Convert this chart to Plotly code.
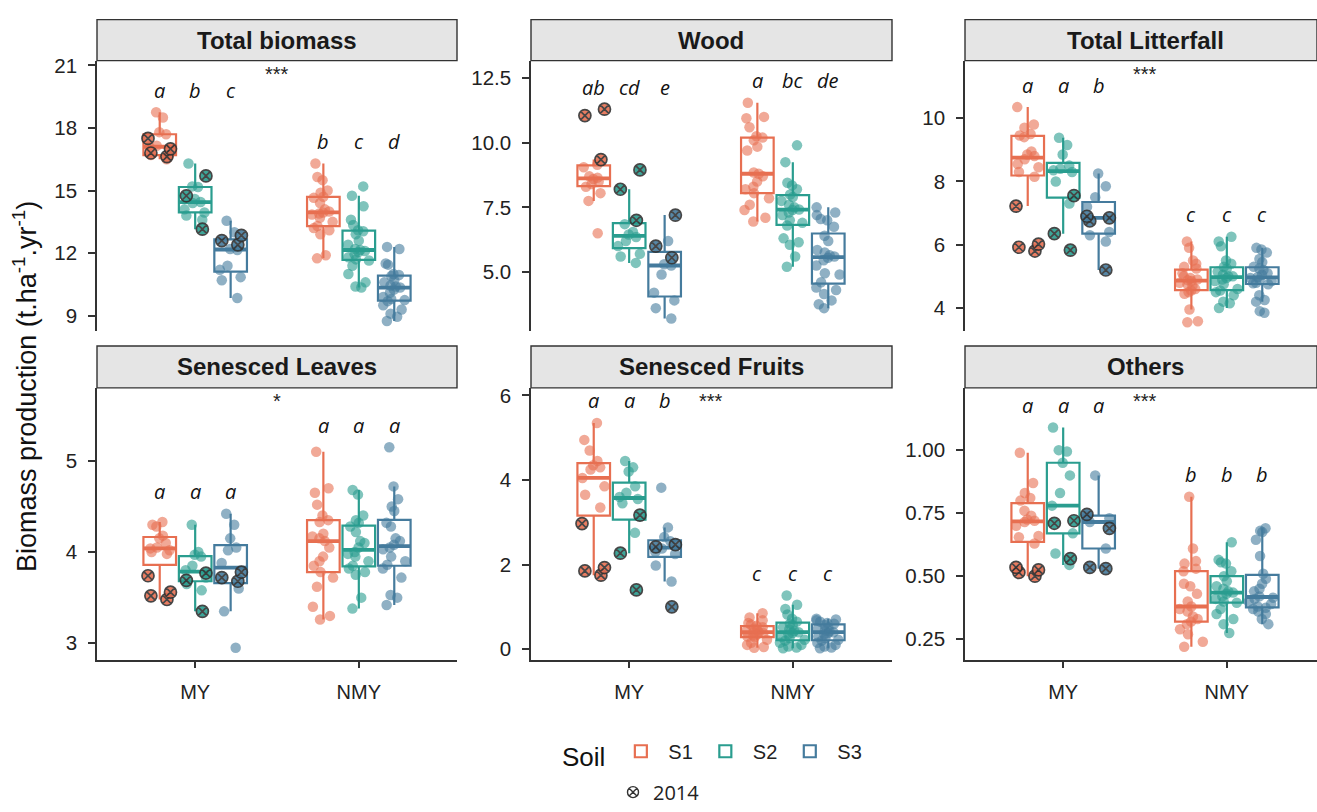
import numpy as np
import plotly.graph_objects as go

# ---------------- data ----------------
panels = ["Total biomass", "Wood", "Total Litterfall", "Senesced Leaves", "Senesced Fruits", "Others"]
groups = ["MY", "NMY"]
soils = ["S1", "S2", "S3"]

# Total biomass
TB_MY_S1 = [18.75, 18.5, 17.8, 17.7, 17.15, 17.1, 16.7, 16.7, 16.5]
TB_MY_S2 = [16.3, 15.2, 15.17, 14.6, 14.45, 14.4, 14.1, 13.95, 13.8, 13.6]
TB_MY_S3 = [13.55, 13.0, 12.2, 12.15, 11.4, 11.2, 10.85, 10.7, 9.85]
TB_2014_S1 = [17.5, 17.0, 16.8, 16.63]
TB_2014_S2 = [15.7, 14.75, 13.15]
TB_2014_S3 = [12.85, 12.6, 12.4]
TB_NMY_S1 = [16.3, 15.65, 15.5, 15.0, 14.9, 14.7, 14.65, 14.4, 14.1, 14.0, 13.95, 13.9, 13.85, 13.7, 13.5, 13.3, 13.2, 13.1, 12.9, 11.9, 11.75]
TB_NMY_S2 = [15.2, 14.75, 14.25, 13.6, 13.35, 13.1, 13.05, 12.9, 12.6, 12.4, 12.2, 12.15, 12.1, 12.05, 11.95, 11.8, 11.7, 11.65, 11.4, 11.0, 10.6, 10.4, 10.35]
TB_NMY_S3 = [12.3, 12.2, 11.5, 11.45, 11.0, 10.95, 10.9, 10.7, 10.6, 10.45, 10.4, 10.35, 10.25, 10.1, 9.9, 9.8, 9.75, 9.7, 9.5, 9.3, 9.1, 8.95, 8.75]

# Wood
WO_MY_S1 = [9.15, 9.05, 8.7, 8.65, 8.6, 8.5, 8.4, 8.3, 8.05, 7.75, 6.5]
WO_MY_S2 = [6.85, 6.55, 6.45, 6.35, 6.2, 6.0, 5.7, 5.6, 5.35]
WO_MY_S3 = [6.2, 5.3, 5.25, 4.9, 4.2, 3.9, 3.6, 3.2]
WO_2014_S1 = [11.3, 11.05, 9.35]
WO_2014_S2 = [8.95, 8.2, 7.0]
WO_2014_S3 = [7.2, 6.0, 5.55]
WO_NMY_S1 = [11.55, 11.0, 10.95, 10.6, 10.25, 10.2, 10.1, 9.85, 9.7, 8.85, 8.8, 8.7, 8.5, 8.3, 8.2, 8.05, 7.85, 7.6, 7.4, 7.1, 6.95]
WO_NMY_S2 = [9.9, 9.25, 8.45, 8.35, 8.2, 8.0, 7.9, 7.75, 7.6, 7.5, 7.42, 7.4, 7.3, 7.2, 7.0, 6.9, 6.8, 6.3, 6.15, 6.05, 5.6, 5.2]
WO_NMY_S3 = [7.5, 7.3, 7.2, 7.05, 7.0, 6.75, 6.4, 6.2, 5.85, 5.75, 5.65, 5.6, 5.55, 5.45, 5.25, 4.95, 4.9, 4.6, 4.4, 4.3, 4.15, 3.9, 3.75, 3.6]

# Total Litterfall
TL_MY_S1 = [10.35, 9.8, 9.7, 9.5, 9.45, 9.4, 8.95, 8.85, 8.8, 8.7, 8.55, 8.45, 8.3, 8.15]
TL_MY_S2 = [9.38, 9.15, 8.85, 8.5, 8.4, 8.35, 8.3, 8.0, 7.3]
TL_MY_S3 = [8.25, 7.85, 7.5, 7.2, 6.4, 6.3, 6.1]
TL_2014_S1 = [7.22, 6.02, 5.92, 5.8]
TL_2014_S2 = [7.55, 6.35, 5.83]
TL_2014_S3 = [6.9, 6.85, 6.75, 5.2]
TL_NMY_S1 = [6.1, 5.9, 5.5, 5.4, 5.3, 5.25, 5.1, 5.0, 4.95, 4.9, 4.88, 4.85, 4.8, 4.75, 4.7, 4.6, 4.55, 4.5, 4.45, 3.95, 3.58, 3.55]
TL_NMY_S2 = [6.25, 6.1, 5.95, 5.5, 5.4, 5.3, 5.25, 5.15, 5.05, 5.0, 5.0, 4.95, 4.9, 4.85, 4.75, 4.6, 4.55, 4.5, 4.4, 4.2, 4.15, 4.0]
TL_NMY_S3 = [5.9, 5.85, 5.75, 5.55, 5.45, 5.3, 5.25, 5.2, 5.1, 5.05, 4.98, 4.95, 4.9, 4.85, 4.8, 4.78, 4.75, 4.4, 4.25, 4.2, 3.9, 3.85]

# Senesced Leaves
SL_MY_S1 = [4.33, 4.3, 4.28, 4.18, 4.15, 4.1, 4.05, 4.04, 4.02, 4.0, 3.98]
SL_MY_S2 = [4.3, 4.0, 3.97, 3.95, 3.85, 3.8, 3.72, 3.65, 3.58]
SL_MY_S3 = [4.42, 4.3, 4.15, 4.05, 4.02, 3.88, 3.6, 3.35, 2.95]
SL_2014_S1 = [3.74, 3.56, 3.52, 3.48]
SL_2014_S2 = [3.77, 3.69, 3.35]
SL_2014_S3 = [3.78, 3.72, 3.68]
SL_NMY_S1 = [5.1, 4.7, 4.65, 4.52, 4.4, 4.35, 4.33, 4.2, 4.17, 4.15, 4.12, 4.05, 3.95, 3.9, 3.85, 3.78, 3.72, 3.62, 3.4, 3.3, 3.26]
SL_NMY_S2 = [4.68, 4.63, 4.4, 4.35, 4.32, 4.28, 4.22, 4.12, 4.1, 4.05, 4.0, 3.98, 3.95, 3.9, 3.85, 3.82, 3.78, 3.75, 3.5, 3.38]
SL_NMY_S3 = [5.15, 4.72, 4.58, 4.5, 4.45, 4.32, 4.28, 4.15, 4.12, 4.08, 4.05, 4.03, 3.95, 3.9, 3.86, 3.82, 3.72, 3.53, 3.5, 3.42]

# Senesced Fruits
SF_MY_S1 = [5.35, 4.95, 4.7, 4.45, 4.35, 4.3, 4.25, 4.05, 3.85, 3.65, 3.35]
SF_MY_S2 = [4.45, 4.3, 4.2, 3.85, 3.7, 3.6, 3.55, 3.45, 2.75]
SF_MY_S3 = [3.82, 2.88, 2.65, 2.55, 2.38, 2.3, 2.25, 1.98, 1.6]
SF_2014_S1 = [2.97, 1.93, 1.85, 1.75]
SF_2014_S2 = [3.17, 2.27, 1.4]
SF_2014_S3 = [2.47, 2.42, 1.0]
SF_NMY_S1 = [0.85, 0.75, 0.68, 0.62, 0.58, 0.55, 0.52, 0.48, 0.45, 0.42, 0.4, 0.4, 0.38, 0.35, 0.32, 0.3, 0.28, 0.22, 0.15, 0.1, 0.05, 0.03]
SF_NMY_S2 = [1.27, 1.05, 0.95, 0.82, 0.72, 0.65, 0.6, 0.57, 0.52, 0.47, 0.43, 0.4, 0.38, 0.35, 0.3, 0.26, 0.22, 0.2, 0.15, 0.1, 0.06, 0.04, 0.02]
SF_NMY_S3 = [0.72, 0.7, 0.68, 0.65, 0.62, 0.6, 0.57, 0.52, 0.48, 0.44, 0.42, 0.4, 0.38, 0.35, 0.3, 0.26, 0.22, 0.2, 0.15, 0.1, 0.06, 0.04, 0.02]

# Others
OT_MY_S1 = [0.99, 0.87, 0.83, 0.81, 0.8, 0.76, 0.74, 0.725, 0.72, 0.715, 0.7, 0.66, 0.655, 0.63]
OT_MY_S2 = [1.09, 1.0, 0.995, 0.95, 0.9, 0.83, 0.78, 0.67, 0.59, 0.545]
OT_MY_S3 = [0.9, 0.74, 0.73, 0.715, 0.61]
OT_2014_S1 = [0.535, 0.525, 0.515, 0.5]
OT_2014_S2 = [0.72, 0.71, 0.57]
OT_2014_S3 = [0.745, 0.69, 0.535, 0.53]
OT_NMY_S1 = [0.815, 0.61, 0.56, 0.55, 0.53, 0.52, 0.47, 0.46, 0.43, 0.4, 0.38, 0.37, 0.36, 0.34, 0.33, 0.32, 0.31, 0.29, 0.27, 0.24, 0.22]
OT_NMY_S2 = [0.635, 0.565, 0.555, 0.55, 0.52, 0.5, 0.48, 0.46, 0.45, 0.44, 0.435, 0.43, 0.42, 0.41, 0.4, 0.395, 0.37, 0.35, 0.33, 0.31, 0.275]
OT_NMY_S3 = [0.69, 0.68, 0.675, 0.645, 0.58, 0.51, 0.49, 0.47, 0.45, 0.44, 0.42, 0.415, 0.41, 0.4, 0.39, 0.38, 0.375, 0.37, 0.36, 0.35, 0.33, 0.31]

letters_TB = ["a", "b", "c", "b", "c", "d"]
letters_WO = ["ab", "cd", "e", "a", "bc", "de"]
letters_TL = ["a", "a", "b", "c", "c", "c"]
letters_SL = ["a", "a", "a", "a", "a", "a"]
letters_SF = ["a", "a", "b", "c", "c", "c"]
letters_OT = ["a", "a", "a", "b", "b", "b"]
stars = ["***", "", "***", "*", "***", "***"]

MY = [[TB_MY_S1, TB_MY_S2, TB_MY_S3], [WO_MY_S1, WO_MY_S2, WO_MY_S3], [TL_MY_S1, TL_MY_S2, TL_MY_S3],
      [SL_MY_S1, SL_MY_S2, SL_MY_S3], [SF_MY_S1, SF_MY_S2, SF_MY_S3], [OT_MY_S1, OT_MY_S2, OT_MY_S3]]
Y2014 = [[TB_2014_S1, TB_2014_S2, TB_2014_S3], [WO_2014_S1, WO_2014_S2, WO_2014_S3], [TL_2014_S1, TL_2014_S2, TL_2014_S3],
         [SL_2014_S1, SL_2014_S2, SL_2014_S3], [SF_2014_S1, SF_2014_S2, SF_2014_S3], [OT_2014_S1, OT_2014_S2, OT_2014_S3]]
NMY = [[TB_NMY_S1, TB_NMY_S2, TB_NMY_S3], [WO_NMY_S1, WO_NMY_S2, WO_NMY_S3], [TL_NMY_S1, TL_NMY_S2, TL_NMY_S3],
       [SL_NMY_S1, SL_NMY_S2, SL_NMY_S3], [SF_NMY_S1, SF_NMY_S2, SF_NMY_S3], [OT_NMY_S1, OT_NMY_S2, OT_NMY_S3]]
LETTERS = [letters_TB, letters_WO, letters_TL, letters_SL, letters_SF, letters_OT]

# ---------------- style / layout ----------------
W, H = 1317, 812
colors = ["#E76F51", "#2A9D8F", "#457B9D"]
FONT = "Liberation Sans, Arial, sans-serif"
INK = "#222222"
col_px = [(97, 457), (531, 892), (965, 1317)]
row_px = [(55, 333), (391, 670)]
strip_px = [42, 43]
yranges = [[8.25, 21.23], [2.70, 13.18], [3.26, 11.82], [2.82, 5.80], [-0.25, 6.18], [0.169, 1.247]]
ytickvals = [[9, 12, 15, 18, 21], [5.0, 7.5, 10.0, 12.5], [4, 6, 8, 10], [3, 4, 5], [0, 2, 4, 6], [0.25, 0.5, 0.75, 1.0]]
ytickfmt = ["", ".1f", "", "", "", ".2f"]
BOXGAP, GROUPGAP = 0.35, 0.08
slot = (1 - BOXGAP) / 3
UNIT_PX = 360 / 2.2


def box_stats(v):
    a = np.asarray(v, float)
    q1, med, q3 = np.percentile(a, [25, 50, 75])
    iqr = q3 - q1
    lo = a[a >= q1 - 1.5 * iqr].min()
    hi = a[a <= q3 + 1.5 * iqr].max()
    return q1, med, q3, lo, hi


fig = go.Figure()
annotations = []
shapes = []

for p in range(6):
    k = p + 1
    xa = "x" if k == 1 else f"x{k}"
    ya = "y" if k == 1 else f"y{k}"
    for j, soil in enumerate(soils):
        c = colors[j]
        my_all = MY[p][j] + Y2014[p][j]
        nmy = NMY[p][j]
        st = [box_stats(my_all), box_stats(nmy)]
        fig.add_trace(go.Box(
            x=groups, q1=[s[0] for s in st], median=[s[1] for s in st], q3=[s[2] for s in st],
            lowerfence=[s[3] for s in st], upperfence=[s[4] for s in st],
            name=soil, showlegend=(p == 0), legend="legend", offsetgroup=soil,
            line=dict(color=c, width=2.2), fillcolor="rgba(255,255,255,0)", whiskerwidth=0,
            boxpoints=False, xaxis=xa, yaxis=ya, hoverinfo="skip"))
        fig.add_trace(go.Box(
            x=groups, q1=[s[1] for s in st], median=[s[1] for s in st], q3=[s[1] for s in st],
            lowerfence=[s[1] for s in st], upperfence=[s[1] for s in st],
            showlegend=False, offsetgroup=soil, line=dict(color=c, width=3.8),
            fillcolor="rgba(255,255,255,0)", whiskerwidth=0, boxpoints=False,
            xaxis=xa, yaxis=ya, hoverinfo="skip"))
        fig.add_trace(go.Box(
            x=["MY"] * len(MY[p][j]) + ["NMY"] * len(nmy), y=MY[p][j] + nmy,
            showlegend=False, offsetgroup=soil, boxpoints="all", jitter=0.85, pointpos=0,
            line=dict(color=c, width=0), fillcolor="rgba(255,255,255,0)", whiskerwidth=0,
            marker=dict(color=c, size=10.5, opacity=0.6, line=dict(width=0)),
            xaxis=xa, yaxis=ya, hoverinfo="skip"))
        fig.add_trace(go.Box(
            x=["MY"] * len(Y2014[p][j]), y=Y2014[p][j],
            showlegend=False, offsetgroup=soil, boxpoints="all", jitter=0.85, pointpos=0,
            line=dict(color=c, width=0), fillcolor="rgba(255,255,255,0)", whiskerwidth=0,
            marker=dict(color=c, size=12, opacity=0.9, symbol="circle-x",
                        line=dict(color="#333333", width=1.7)),
            xaxis=xa, yaxis=ya, hoverinfo="skip"))

    row, col = divmod(p, 3)
    x0, x1 = col_px[col]
    y0, y1 = row_px[row]
    width_px = x1 - x0
    xr = [-0.6, -0.6 + width_px / UNIT_PX]
    bottom = row == 1
    fig.layout[f"xaxis{'' if k == 1 else k}"] = dict(
        domain=[x0 / W, x1 / W], anchor=ya, type="category", categoryorder="array",
        categoryarray=groups, range=xr, showgrid=False, zeroline=False,
        showline=bottom, linecolor="#333333", linewidth=1.5,
        ticks="outside" if bottom else "", ticklen=7, tickwidth=1.5, tickcolor="#333333",
        showticklabels=bottom, tickfont=dict(size=20, color=INK, family=FONT),
        ticklabelstandoff=7, fixedrange=True)
    fig.layout[f"yaxis{'' if k == 1 else k}"] = dict(
        domain=[1 - y1 / H, 1 - y0 / H], anchor=xa, range=yranges[p], showgrid=False,
        zeroline=False, showline=True, linecolor="#333333", linewidth=1.5,
        ticks="outside", ticklen=7, tickwidth=1.5, tickcolor="#333333",
        tickvals=ytickvals[p], tickformat=ytickfmt[p],
        tickfont=dict(size=20.5, color=INK, family=FONT), ticklabelstandoff=7, fixedrange=True)

    # strip
    plot_h = y1 - y0
    sh = strip_px[row] / plot_h
    shapes.append(dict(type="rect", xref=f"{xa} domain", yref=f"{ya} domain",
                       x0=0, x1=1, y0=1, y1=1 + sh, fillcolor="#E5E5E5",
                       line=dict(color="#333333", width=1.4), layer="above"))
    annotations.append(dict(text=f"<b>{panels[p]}</b>", xref=f"{xa} domain", yref=f"{ya} domain",
                            x=(360 / 2) / width_px, y=1 + sh / 2, xanchor="center", yanchor="middle",
                            showarrow=False, font=dict(size=24, color="#1a1a1a", family=FONT)))
    # significance stars
    if stars[p]:
        annotations.append(dict(text=stars[p], xref=xa, yref=f"{ya} domain", x=0.5, y=1,
                                xanchor="center", yanchor="top", yshift=0, showarrow=False,
                                font=dict(size=20, color=INK, family=FONT)))
    # letters
    for gi, g in enumerate(groups):
        if g == "MY":
            top = max(max(MY[p][j] + Y2014[p][j]) for j in range(3))
        else:
            top = max(max(NMY[p][j]) for j in range(3))
        for j in range(3):
            annotations.append(dict(text=f"<i>{LETTERS[p][gi * 3 + j]}</i>", xref=xa, yref=ya,
                                    x=gi + (j - 1) * slot, y=top, yshift=22, xanchor="center",
                                    yanchor="middle", showarrow=False,
                                    font=dict(size=20, color="#111111", family="Open Sans, sans-serif")))

# y-axis title
annotations.append(dict(text="Biomass production (t.ha<sup>-1</sup>.yr<sup>-1</sup>)",
                        xref="paper", yref="paper", x=25 / W, y=1 - 390 / H, textangle=-90,
                        xanchor="center", yanchor="middle", showarrow=False,
                        font=dict(size=27, color="#111111", family=FONT)))

# legend entry for 2014 symbol
fig.add_trace(go.Scatter(x=[None], y=[None], mode="markers", name="2014", legend="legend2",
                         marker=dict(symbol="circle-x-open", size=11, color="#333333",
                                     line=dict(width=1.4, color="#333333")),
                         xaxis="x", yaxis="y", hoverinfo="skip"))

fig.update_layout(
    width=W, height=H, margin=dict(l=0, r=0, t=0, b=0),
    paper_bgcolor="white", plot_bgcolor="white",
    boxmode="group", boxgap=BOXGAP, boxgroupgap=GROUPGAP,
    font=dict(family=FONT, color=INK),
    shapes=shapes, annotations=annotations,
    legend=dict(orientation="h", x=560 / W, y=1 - 744 / H, xanchor="left", yanchor="top",
                title=dict(text="Soil", side="left", font=dict(size=26, color="#111111", family=FONT)),
                font=dict(size=20, color=INK, family=FONT), bgcolor="rgba(0,0,0,0)",
                itemwidth=45),
    legend2=dict(orientation="h", x=613 / W, y=1 - 786 / H, xanchor="left", yanchor="top",
                 font=dict(size=20, color=INK, family="Open Sans, sans-serif"), bgcolor="rgba(0,0,0,0)"),
)

fig.write_html("out.html")
